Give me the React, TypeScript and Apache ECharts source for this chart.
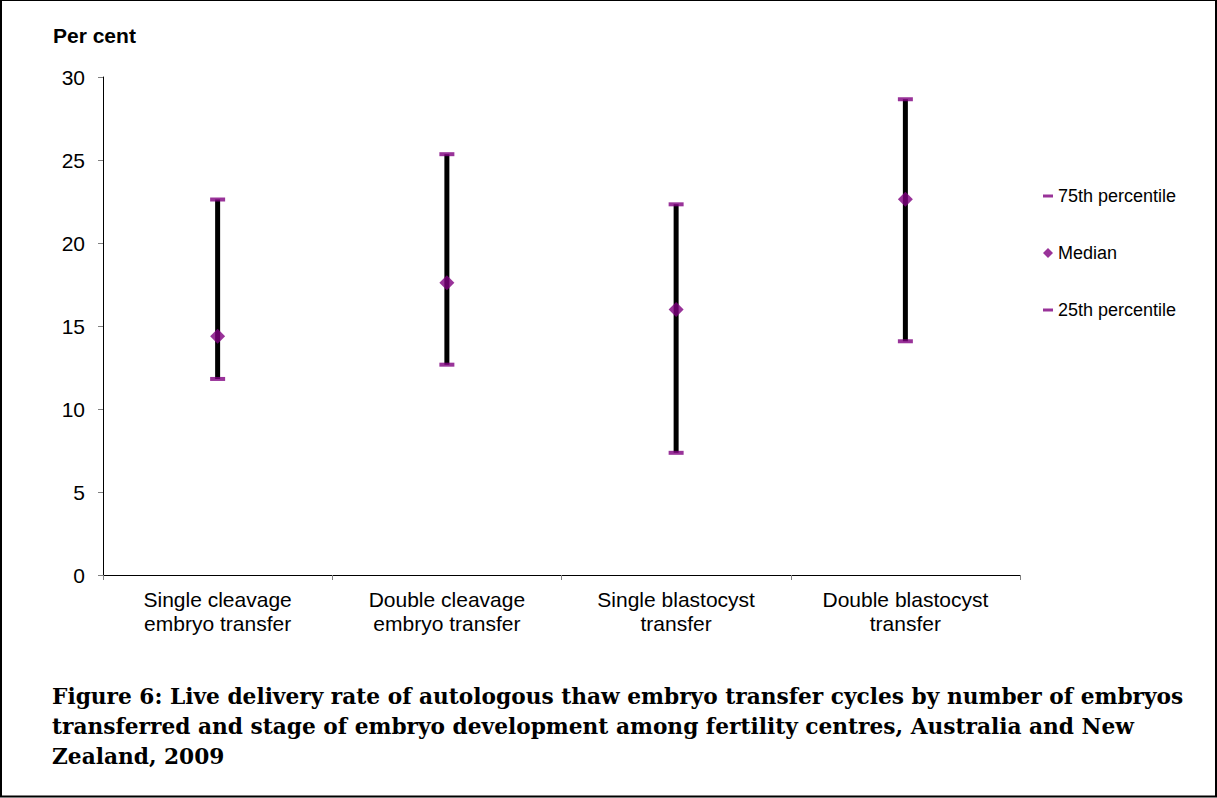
import React, { useEffect, useRef } from "react";
import * as echarts from "echarts";

const categories = [
  "Single cleavage\nembryo transfer",
  "Double cleavage\nembryo transfer",
  "Single blastocyst\ntransfer",
  "Double blastocyst\ntransfer",
];
const p75 = [22.62, 25.35, 22.33, 28.66];
const median = [14.38, 17.6, 16.0, 22.63];
const p25 = [11.81, 12.67, 7.36, 14.08];
const yTicks = { min: 0, max: 30, interval: 5 };
const captionLines = [
  "Figure 6: Live delivery rate of autologous thaw embryo transfer cycles by number of embryos",
  "transferred and stage of embryo development among fertility centres, Australia and New",
  "Zealand, 2009",
];

const PURPLE = "#800080";
const SANS = "'Liberation Sans', Arial, sans-serif";
const SERIF = "'DejaVu Serif', 'Liberation Serif', serif";

export default function App() {
  const ref = useRef<HTMLDivElement>(null);
  useEffect(() => {
    if (!ref.current) return;
    const chart = echarts.init(ref.current, undefined, { renderer: "svg" });
    const whiskers = categories.map((_, i) => [i, p25[i], p75[i]]);
    chart.setOption({
      animation: false,
      backgroundColor: "#fff",
      grid: { left: 103, top: 77, width: 917, height: 498, containLabel: false },
      legend: {
        orient: "vertical",
        left: 1043,
        top: 186,
        padding: 0,
        itemWidth: 10,
        itemHeight: 10,
        itemGap: 37,
        selectedMode: false,
        symbolKeepAspect: true,
        textStyle: { fontFamily: SANS, fontSize: 18, color: "#000", lineHeight: 20 },
        data: [
          { name: "75th percentile", icon: "path://M0,0h10v3h-10z" },
          { name: "Median", icon: "path://M5,0L10,5L5,10L0,5Z" },
          { name: "25th percentile", icon: "path://M0,0h10v3h-10z" },
        ],
      },
      xAxis: {
        type: "category",
        data: categories,
        boundaryGap: true,
        axisLine: { show: true, lineStyle: { color: "#000", width: 1 } },
        axisTick: { show: true, inside: false, length: 5, alignWithLabel: false, lineStyle: { color: "#808080" } },
        axisLabel: { fontFamily: SANS, fontSize: 21, lineHeight: 24, color: "#000", margin: 12, interval: 0 },
        splitLine: { show: false },
      },
      yAxis: {
        type: "value",
        min: yTicks.min,
        max: yTicks.max,
        interval: yTicks.interval,
        axisLine: { show: true, lineStyle: { color: "#000", width: 1 } },
        axisTick: { show: true, inside: false, length: 5, lineStyle: { color: "#808080" } },
        axisLabel: { fontFamily: SANS, fontSize: 21, color: "#000", margin: 18 },
        splitLine: { show: false },
      },
      series: [
        {
          type: "custom",
          name: "range",
          data: whiskers,
          encode: { x: 0, y: [1, 2] },
          z: 1,
          renderItem: (params: any, api: any) => {
            const lo = api.coord([api.value(0), api.value(1)]);
            const hi = api.coord([api.value(0), api.value(2)]);
            return {
              type: "line",
              shape: { x1: lo[0], y1: lo[1], x2: hi[0], y2: hi[1] },
              style: { stroke: "#000", lineWidth: 5 },
            };
          },
        },
        {
          type: "scatter",
          name: "75th percentile",
          data: p75,
          symbol: "rect",
          symbolSize: [15, 4],
          itemStyle: { color: PURPLE },
          z: 3,
        },
        {
          type: "scatter",
          name: "Median",
          data: median,
          symbol: "diamond",
          symbolSize: [15, 15],
          itemStyle: { color: PURPLE },
          z: 3,
        },
        {
          type: "scatter",
          name: "25th percentile",
          data: p25,
          symbol: "rect",
          symbolSize: [15, 4],
          itemStyle: { color: PURPLE },
          z: 3,
        },
      ],
      graphic: [
        {
          type: "rect",
          shape: { x: 1, y: 0, width: 1215, height: 796.5 },
          style: { fill: "none", stroke: "#000", lineWidth: 2 },
          silent: true,
        },
        {
          type: "text",
          left: 53,
          top: 25,
          style: { text: "Per cent", fontFamily: SANS, fontSize: 21, fontWeight: "bold", fill: "#000" },
        },
        {
          type: "text",
          x: 52,
          y: 681,
          style: {
            text: captionLines.join("\n"),
            fontFamily: SERIF,
            fontSize: 21.7,
            fontWeight: "bold",
            lineHeight: 30,
            fill: "#000",
            verticalAlign: "top",
          },
        },
      ],
    });
    return () => chart.dispose();
  }, []);
  return (
    <div
      ref={ref}
      style={{ position: "absolute", left: 0, top: 0, width: 1217, height: 798 }}
    />
  );
}
